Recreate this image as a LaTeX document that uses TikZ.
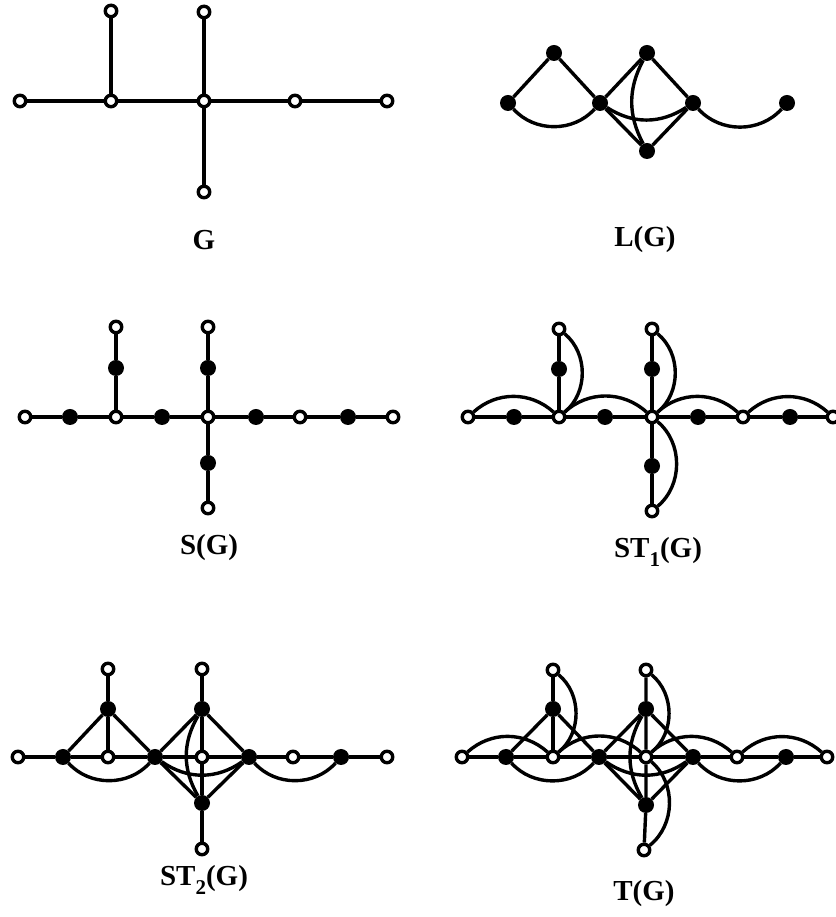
\documentclass[tikz,border=0pt]{standalone}
\usepackage{fontspec}
\setmainfont{Liberation Serif}
\usetikzlibrary{backgrounds}
\tikzset{
 onode/.style={circle,draw=black,fill=white,line width=3.4pt,inner sep=0pt,minimum size=11.5pt},
 fnode/.style={circle,fill=black,inner sep=0pt,minimum size=16pt},
 edge/.style={line width=3.4pt},
 lab/.style={font=\fontsize{29}{29}\selectfont\bfseries,inner sep=0pt},
}
\newcommand\mysubnum[1]{\raisebox{-0.3em}{\fontsize{21}{21}\selectfont #1}}
\newcommand\rownodes[3]{% prefix, y, list of x
  \foreach \xx [count=\ii from 0] in {#3}{%
    \ifodd\ii \node[fnode] (#1\ii) at (\xx,#2) {};%
    \else \node[onode] (#1\ii) at (\xx,#2) {};\fi}}
\begin{document}
\begin{tikzpicture}[x=1pt,y=1pt]
\useasboundingbox (0,0) rectangle (835,917);

% ---------------- G ----------------
\node[onode] (gL) at (20,816) {};
\node[onode] (g1) at (111,816) {};
\node[onode] (g1t) at (111,906) {};
\node[onode] (g2) at (204,816) {};
\node[onode] (g2t) at (204,905) {};
\node[onode] (g2b) at (204,725) {};
\node[onode] (g3) at (295,816) {};
\node[onode] (g4) at (387,816) {};
\node[lab] (labG) at (204,677) {G};
\begin{scope}[on background layer]
\draw[edge] (gL)--(g1)--(g2)--(g3)--(g4);
\draw[edge] (g1)--(g1t);
\draw[edge] (g2t)--(g2)--(g2b);
\end{scope}

% ---------------- L(G) ----------------
\node[fnode] (la) at (508,814) {};
\node[fnode] (lb) at (554,864) {};
\node[fnode] (lc) at (600,814) {};
\node[fnode] (ld) at (647,864) {};
\node[fnode] (le) at (693,814) {};
\node[fnode] (lf) at (647,766) {};
\node[fnode] (lg) at (787,814) {};
\node[lab] (labL) at (645,677) {L(G)};
\begin{scope}[on background layer]
\draw[edge] (la)--(lb)--(lc)--(ld)--(le)--(lf)--(lc);
\draw[edge] (la) to[bend right=48] (lc);
\draw[edge] (lc) to[bend right=33] (le);
\draw[edge] (ld) to[bend right=28] (lf);
\draw[edge] (le) to[bend right=48] (lg);
\end{scope}

% ---------------- S(G) ----------------
\rownodes{s}{500}{25,70,116,162,208,256,300,348,393}
\node[fnode] (s2a) at (116,549) {};
\node[onode] (s2t) at (116,590) {};
\node[fnode] (s4a) at (208,549) {};
\node[onode] (s4t) at (208,590) {};
\node[fnode] (s4b) at (208,454) {};
\node[onode] (s4bb) at (208,409) {};
\node[lab] (labS) at (209,369) {S(G)};
\begin{scope}[on background layer]
\draw[edge] (s0)--(s1)--(s2)--(s3)--(s4)--(s5)--(s6)--(s7)--(s8);
\draw[edge] (s2)--(s2a)--(s2t);
\draw[edge] (s4t)--(s4a)--(s4)--(s4b)--(s4bb);
\end{scope}

% ---------------- ST1(G) ----------------
\rownodes{u}{500}{468,514,559,605,652,698,743,790,833}
\node[fnode] (u2a) at (559,548) {};
\node[onode] (u2t) at (559,588) {};
\node[fnode] (u4a) at (652,548) {};
\node[onode] (u4t) at (652,588) {};
\node[fnode] (u4b) at (652,451) {};
\node[onode] (u4bb) at (652,406) {};
\node[lab] (labU) at (658,365) {ST\mysubnum{1}(G)};
\begin{scope}[on background layer]
\draw[edge] (u0)--(u1)--(u2)--(u3)--(u4)--(u5)--(u6)--(u7)--(u8);
\draw[edge] (u2)--(u2a)--(u2t);
\draw[edge] (u4t)--(u4a)--(u4)--(u4b)--(u4bb);
\draw[edge] (u0) to[bend left=42] (u2);
\draw[edge] (u2) to[bend left=42] (u4);
\draw[edge] (u4) to[bend left=42] (u6);
\draw[edge] (u6) to[bend left=42] (u8);
\draw[edge] (u2t) to[bend left=50] (u2);
\draw[edge] (u4t) to[bend left=50] (u4);
\draw[edge] (u4) to[bend left=50] (u4bb);
\end{scope}

% ---------------- ST2(G) ----------------
\rownodes{v}{160}{18,63,108,155,202,249,293,341,387}
\node[fnode] (v2a) at (108,208) {};
\node[onode] (v2t) at (108,248) {};
\node[fnode] (v4a) at (202,208) {};
\node[onode] (v4t) at (202,248) {};
\node[fnode] (v4b) at (202,114) {};
\node[onode] (v4bb) at (202,68) {};
\node[lab] (labV) at (204,37) {ST\mysubnum{2}(G)};
\begin{scope}[on background layer]
\draw[edge] (v0)--(v1)--(v2)--(v3)--(v4)--(v5)--(v6)--(v7)--(v8);
\draw[edge] (v2)--(v2a)--(v2t);
\draw[edge] (v4t)--(v4a)--(v4)--(v4b)--(v4bb);
\draw[edge] (v1)--(v2a)--(v3);
\draw[edge] (v3)--(v4a)--(v5);
\draw[edge] (v3)--(v4b)--(v5);
\draw[edge] (v1) to[bend right=48] (v3);
\draw[edge] (v3) to[bend right=35] (v5);
\draw[edge] (v5) to[bend right=48] (v7);
\draw[edge] (v4a) to[bend right=30] (v4b);
\end{scope}

% ---------------- T(G) ----------------
\rownodes{t}{160}{462,506,553,599,646,693,737,786,827}
\node[fnode] (t2a) at (553,208) {};
\node[onode] (t2t) at (553,247) {};
\node[fnode] (t4a) at (646,208) {};
\node[onode] (t4t) at (646,247) {};
\node[fnode] (t4b) at (646,112) {};
\node[onode] (t4bb) at (644,67) {};
\node[lab] (labT) at (644,23) {T(G)};
\begin{scope}[on background layer]
\draw[edge] (t0)--(t1)--(t2)--(t3)--(t4)--(t5)--(t6)--(t7)--(t8);
\draw[edge] (t2)--(t2a)--(t2t);
\draw[edge] (t4t)--(t4a)--(t4)--(t4b)--(t4bb);
\draw[edge] (t1)--(t2a)--(t3);
\draw[edge] (t3)--(t4a)--(t5);
\draw[edge] (t3)--(t4b)--(t5);
\draw[edge] (t1) to[bend right=48] (t3);
\draw[edge] (t3) to[bend right=35] (t5);
\draw[edge] (t5) to[bend right=48] (t7);
\draw[edge] (t4a) to[bend right=30] (t4b);
\draw[edge] (t0) to[bend left=42] (t2);
\draw[edge] (t2) to[bend left=42] (t4);
\draw[edge] (t4) to[bend left=42] (t6);
\draw[edge] (t6) to[bend left=42] (t8);
\draw[edge] (t2t) to[bend left=50] (t2);
\draw[edge] (t4t) to[bend left=50] (t4);
\draw[edge] (t4) to[bend left=50] (t4bb);
\end{scope}
\end{tikzpicture}
\end{document}
